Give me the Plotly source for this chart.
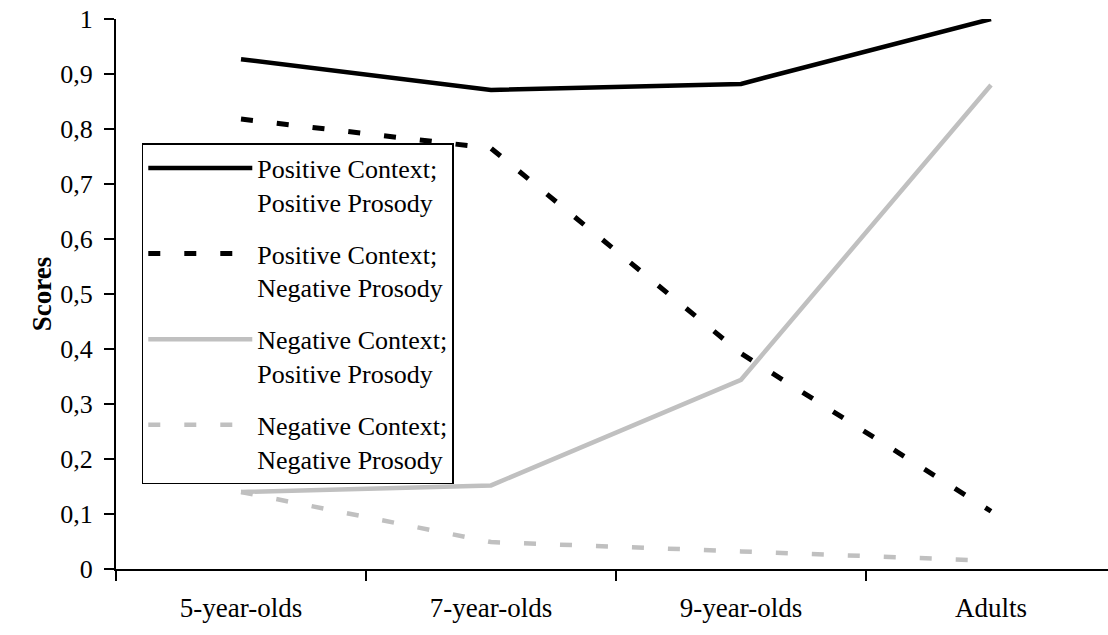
import plotly.graph_objects as go

categories = ["5-year-olds", "7-year-olds", "9-year-olds", "Adults"]
pos_ctx_pos_pros = [0.927, 0.871, 0.882, 1.0]
pos_ctx_neg_pros = [0.818, 0.765, 0.392, 0.105]
neg_ctx_pos_pros = [0.140, 0.152, 0.344, 0.880]
neg_ctx_neg_pros = [0.140, 0.049, 0.032, 0.015]

names = ["Positive Context;<br>Positive Prosody",
         "Positive Context;<br>Negative Prosody",
         "Negative Context;<br>Positive Prosody",
         "Negative Context;<br>Negative Prosody"]

FONT = "Liberation Serif"
GREY = "#c0c0c0"

fig = go.Figure()
fig.add_trace(go.Scatter(x=categories, y=pos_ctx_pos_pros, name=names[0], mode="lines",
                         legendgroup="a", line=dict(color="black", width=4.5)))
fig.add_trace(go.Scatter(x=categories, y=pos_ctx_neg_pros, name=names[1], mode="lines",
                         legendgroup="b", line=dict(color="black", width=5, dash="12px,24px")))
fig.add_trace(go.Scatter(x=categories, y=neg_ctx_pos_pros, name=names[2], mode="lines",
                         legendgroup="c", line=dict(color=GREY, width=4.5)))
fig.add_trace(go.Scatter(x=categories, y=neg_ctx_neg_pros, name=names[3], mode="lines",
                         legendgroup="d", line=dict(color=GREY, width=4.5, dash="12px,24px")))

fig.update_layout(
    width=1108, height=635,
    margin=dict(l=116, r=0, t=19, b=66),
    paper_bgcolor="white", plot_bgcolor="white",
    separators=", ",
    font=dict(family=FONT, size=26, color="black"),
    showlegend=True,
    legend=dict(x=0.026, y=0.7745, xanchor="left", yanchor="top",
                bordercolor="black", borderwidth=1.5, bgcolor="white",
                font=dict(family=FONT, size=26, color="black"),
                valign="top", tracegroupgap=15, itemwidth=104),
)
fig.update_xaxes(
    type="category", range=[-0.5, 3.468], tickson="boundaries",
    showline=True, linecolor="black", linewidth=2,
    ticks="outside", ticklen=10, tickwidth=1.5, tickcolor="black",
    showgrid=False, zeroline=False, automargin=False,
    tickfont=dict(family=FONT, size=27), ticklabelstandoff=14,
)
fig.update_yaxes(
    range=[0, 1], dtick=0.1, tick0=0,
    showline=True, linecolor="black", linewidth=2,
    ticks="outside", ticklen=10, tickwidth=1.5, tickcolor="black",
    showgrid=False, zeroline=False, automargin=False,
    ticklabeloverflow="allow",
    tickfont=dict(family=FONT, size=26), ticklabelstandoff=6,
    title=dict(text="<b>Scores</b>", font=dict(family=FONT, size=27), standoff=1),
)

fig.write_html("out.html",
               config={"displayModeBar": False},
               post_script="document.body.style.margin='0';document.body.style.overflow='hidden';")
